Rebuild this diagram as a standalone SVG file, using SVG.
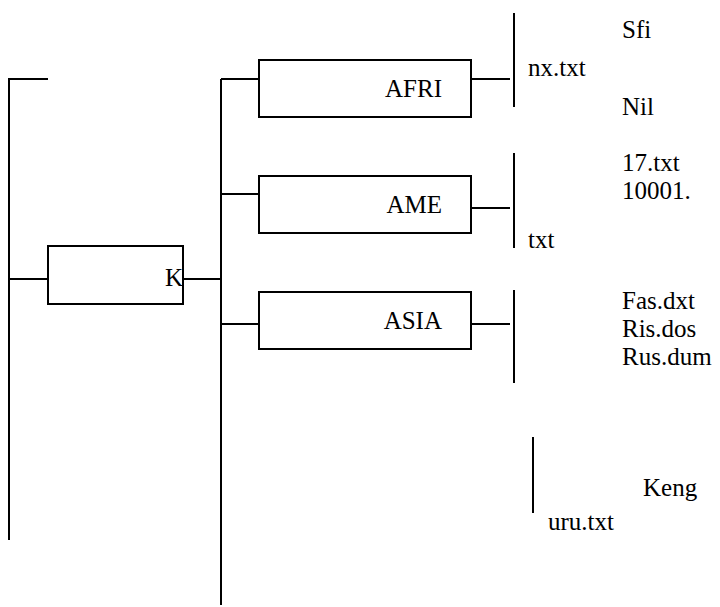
<svg xmlns="http://www.w3.org/2000/svg" width="720" height="607" viewBox="0 0 720 607">
<style>
.ln{stroke:#000;stroke-width:2;fill:none}
.bx{stroke:#000;stroke-width:2;fill:#fff}
.t{font-family:'Liberation Serif','DejaVu Serif',serif;font-size:25px;fill:#000}
.r{text-anchor:end}
</style>
<rect width="720" height="607" fill="#fff"/>
<g id="connectors">
<path class="ln" d="M48 79H9V540"/>
<path class="ln" d="M9 279H48"/>
<path class="ln" d="M183 279H221"/>
<path class="ln" d="M221 79V605"/>
<path class="ln" d="M221 79H259"/>
<path class="ln" d="M221 194H259"/>
<path class="ln" d="M221 324H259"/>
<path class="ln" d="M471 79H510"/>
<path class="ln" d="M471 208H510"/>
<path class="ln" d="M471 324H510"/>
<path class="ln" d="M514 13V107"/>
<path class="ln" d="M514 153V248"/>
<path class="ln" d="M514 290V383"/>
<path class="ln" d="M533 437V513"/>
</g>
<g id="node-K">
<rect class="bx" x="48" y="246" width="135" height="58"/>
<text class="t r" x="183" y="286">K</text>
</g>
<g id="node-AFRI">
<rect class="bx" x="259" y="60" width="212" height="57"/>
<text class="t r" x="442" y="97">AFRI</text>
</g>
<g id="node-AME">
<rect class="bx" x="259" y="176" width="212" height="57"/>
<text class="t r" x="442" y="213">AME</text>
</g>
<g id="node-ASIA">
<rect class="bx" x="259" y="292" width="212" height="57"/>
<text class="t r" x="442" y="329">ASIA</text>
</g>
<g id="files-AFRI">
<text class="t" x="622" y="38">Sfi</text>
<text class="t" x="528" y="76">nx.txt</text>
<text class="t" x="622" y="115">Nil</text>
</g>
<g id="files-AME">
<text class="t" x="622" y="171">17.txt<tspan x="622" dy="28">10001.</tspan></text>
<text class="t" x="528" y="248">txt</text>
</g>
<g id="files-ASIA">
<text class="t" x="622" y="309">Fas.dxt<tspan x="622" dy="28">Ris.dos</tspan><tspan x="622" dy="28">Rus.dum</tspan></text>
</g>
<g id="files-other">
<text class="t" x="643" y="496">Keng</text>
<text class="t" x="548" y="530">uru.txt</text>
</g>
</svg>
